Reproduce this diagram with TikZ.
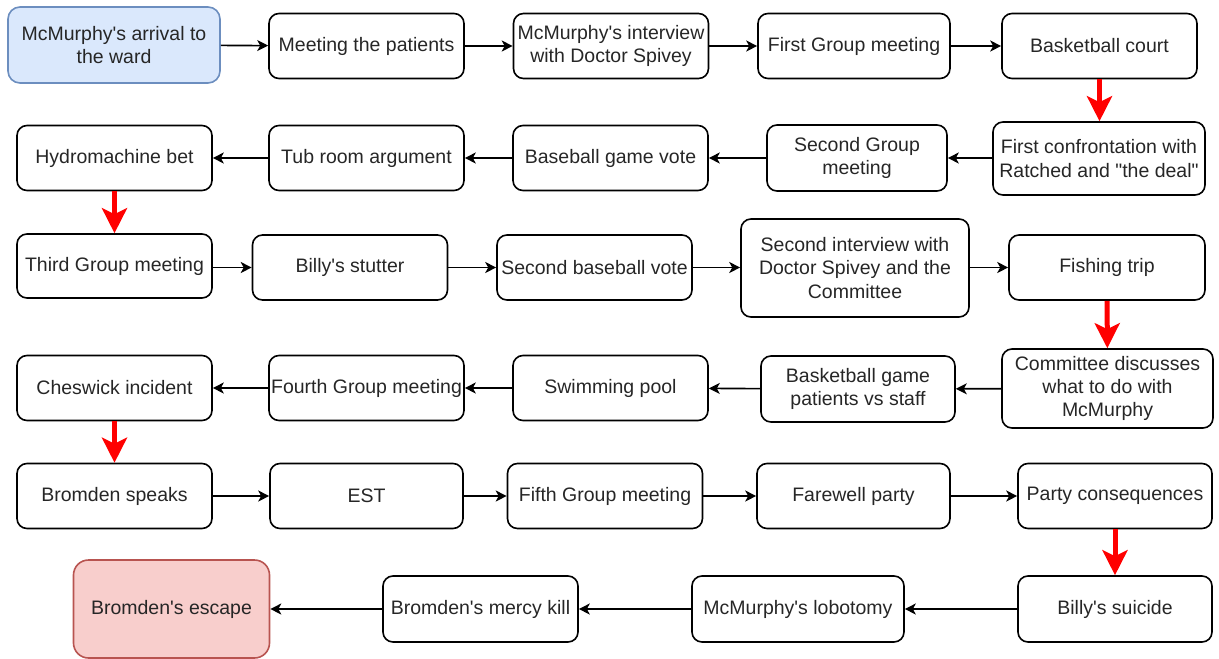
\documentclass[tikz,border=0pt]{standalone}
\usepackage{fontspec}
\setmainfont{Liberation Sans}
\usetikzlibrary{arrows.meta}
\usetikzlibrary{positioning}
\definecolor{startfill}{HTML}{DAE8FC}
\definecolor{startline}{HTML}{6C8EBF}
\definecolor{endfill}{HTML}{F8CECC}
\definecolor{endline}{HTML}{B85450}
\newcommand{\ap}{\textquotesingle}

\begin{document}
\begin{tikzpicture}[x=1pt, y=-1pt,
    event/.style={draw, line width=1.6pt, rounded corners=10pt, align=center,
      minimum width=195pt, minimum height=65pt, inner sep=0pt, text=black!85,
      font=\fontsize{19.5}{23.4}\selectfont},
    start/.style={event, fill=startfill, draw=startline, rounded corners=12pt},
    finish/.style={event, fill=endfill, draw=endline, rounded corners=15pt},
    flow/.style={-{Stealth[length=11pt,width=11pt,inset=3pt]}, line width=1.6pt},
    turn/.style={-{Stealth[length=25pt,width=25pt,inset=6pt]}, line width=5pt, red}]
    \useasboundingbox (0,0) rectangle (1219,659);

    % first row
    \node[start, minimum width=212pt, minimum height=76pt] (arrival) at (114,45)
      {McMurphy\ap s arrival to\\the ward};
    \node[event] (patients) at (366.5,46) {Meeting the patients};
    \node[event] (interview) at (611,46) {McMurphy\ap s interview\\with Doctor Spivey};
    \node[event, minimum width=192pt] (groupone) at (854,46) {First Group meeting};
    \node[event] (court) at (1099.5,46) {Basketball court};

    % second row
    \node[event, minimum width=212pt, minimum height=73pt] (confront) at (1099,158.5)
      {First confrontation with\\Ratched and \textquotedbl the deal\textquotedbl};
    \node[event, minimum width=180pt, minimum height=66pt] (grouptwo) at (857,158)
      {Second Group\\meeting};
    \node[event] (baseball) at (610.5,158) {Baseball game vote};
    \node[event] (tubroom) at (366.5,158) {Tub room argument};
    \node[event] (hydro) at (114.5,158) {Hydromachine bet};

    % third row
    \node[event, minimum height=64pt] (groupthree) at (114.5,266) {Third Group meeting};
    \node[event] (stutter) at (350,267.5) {Billy\ap s stutter};
    \node[event] (vote) at (594.5,267.5) {Second baseball vote};
    \node[event, minimum width=228pt, minimum height=98pt] (interviewtwo) at (855,268)
      {Second interview with\\Doctor Spivey and the\\Committee};
    \node[event, minimum width=196pt] (fishing) at (1107,267.5) {Fishing trip};

    % fourth row
    \node[event, minimum width=211pt, minimum height=79pt] (committee) at (1107.5,388.5)
      {Committee discusses\\what to do with\\McMurphy};
    \node[event, minimum width=194pt, minimum height=66pt] (basketgame) at (858,389)
      {Basketball game\\patients vs staff};
    \node[event] (pool) at (610.5,388) {Swimming pool};
    \node[event] (groupfour) at (366.5,388) {Fourth Group meeting};
    \node[event] (cheswick) at (114.5,388) {Cheswick incident};

    % fifth row
    \node[event] (speaks) at (114.5,496) {Bromden speaks};
    \node[event, minimum width=193pt] (est) at (366.5,496) {EST};
    \node[event] (groupfive) at (605,496) {Fifth Group meeting};
    \node[event, minimum width=193pt] (farewell) at (853.5,496) {Farewell party};
    \node[event, minimum width=194pt] (consequences) at (1115,496) {Party consequences};

    % last row
    \node[event, minimum width=194pt, minimum height=66pt] (suicide) at (1115,609) {Billy\ap s suicide};
    \node[event, minimum width=212pt, minimum height=66pt] (lobotomy) at (798,609) {McMurphy\ap s lobotomy};
    \node[event, minimum height=66pt] (mercy) at (480.5,609) {Bromden\ap s mercy kill};
    \node[finish, minimum width=196pt, minimum height=98pt] (escape) at (171.5,609) {Bromden\ap s escape};

    \draw[flow] (arrival) -- (patients);
    \draw[flow] (patients) -- (interview);
    \draw[flow] (interview) -- (groupone);
    \draw[flow] (groupone) -- (court);
    \draw[turn] (court) -- (confront.north -| court);
    \draw[flow] (confront.west |- grouptwo) -- (grouptwo);
    \draw[flow] (grouptwo) -- (baseball);
    \draw[flow] (baseball) -- (tubroom);
    \draw[flow] (tubroom) -- (hydro);
    \draw[turn] (hydro) -- (groupthree);
    \draw[flow] (groupthree.east |- stutter) -- (stutter);
    \draw[flow] (stutter) -- (vote);
    \draw[flow] (vote) -- (interviewtwo.west |- vote);
    \draw[flow] (interviewtwo.east |- fishing) -- (fishing);
    \draw[turn] (fishing) -- (committee);
    \draw[flow] (committee) -- (basketgame);
    \draw[flow] (basketgame) -- (pool);
    \draw[flow] (pool) -- (groupfour);
    \draw[flow] (groupfour) -- (cheswick);
    \draw[turn] (cheswick) -- (speaks);
    \draw[flow] (speaks) -- (est);
    \draw[flow] (est) -- (groupfive);
    \draw[flow] (groupfive) -- (farewell);
    \draw[flow] (farewell) -- (consequences);
    \draw[turn] (consequences) -- (suicide);
    \draw[flow] (suicide) -- (lobotomy);
    \draw[flow] (lobotomy) -- (mercy);
    \draw[flow] (mercy) -- (escape);
\end{tikzpicture}
\end{document}
